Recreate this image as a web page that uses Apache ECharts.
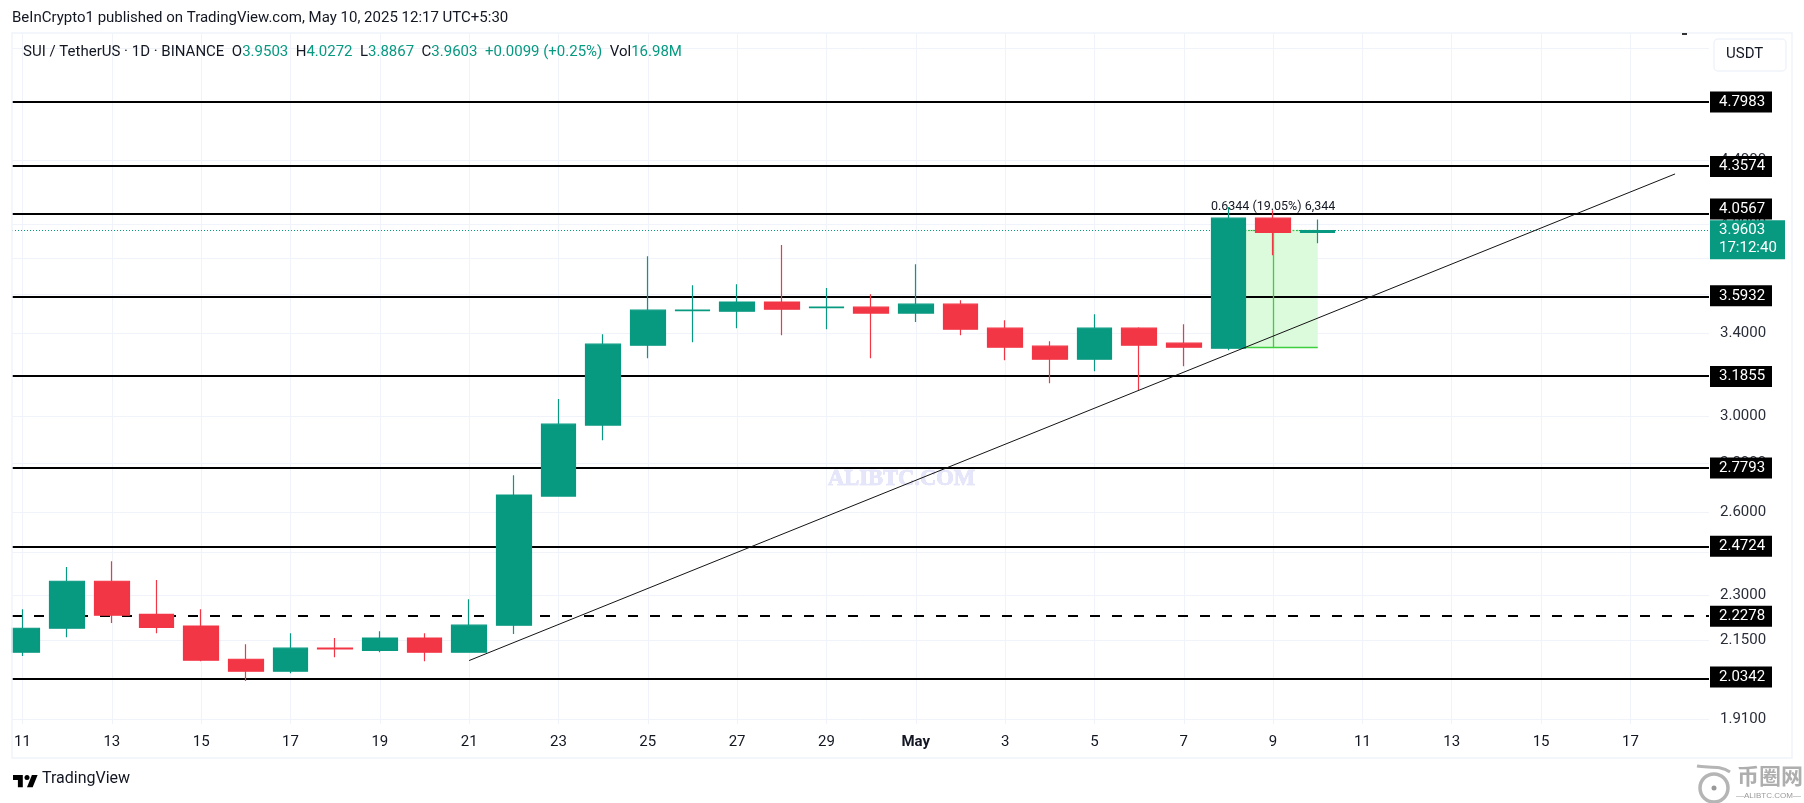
<!DOCTYPE html>
<html lang="en">

<head>
    <meta charset="UTF-8">
    <title>SUI / TetherUS</title>
    <script src="https://cdn.jsdelivr.net/npm/echarts@6/dist/echarts.min.js"></script>
    <style>
        html, body { margin: 0; padding: 0; background: #fff; }
        #container { width: 1804px; height: 803px; }
    </style>
</head>

<body>
    <div id="container"></div>
    <script type="text/javascript">
        // one row per day, Apr 11 - May 10
        var days = ['Apr 11', 'Apr 12', 'Apr 13', 'Apr 14', 'Apr 15', 'Apr 16', 'Apr 17', 'Apr 18', 'Apr 19', 'Apr 20',
            'Apr 21', 'Apr 22', 'Apr 23', 'Apr 24', 'Apr 25', 'Apr 26', 'Apr 27', 'Apr 28', 'Apr 29', 'Apr 30',
            'May 1', 'May 2', 'May 3', 'May 4', 'May 5', 'May 6', 'May 7', 'May 8', 'May 9', 'May 10'];
        var opens = [2.111, 2.188, 2.347, 2.234, 2.195, 2.089, 2.052, 2.124, 2.117, 2.156,
            2.111, 2.198, 2.665, 2.963, 3.338, 3.514, 3.512, 3.560, 3.530, 3.533,
            3.502, 3.549, 3.424, 3.333, 3.269, 3.424, 3.348, 3.323, 4.035, 3.9503];
        var closes = [2.188, 2.347, 2.231, 2.191, 2.086, 2.052, 2.124, 2.1215, 2.156, 2.111,
            2.198, 2.669, 2.967, 3.343, 3.517, 3.517, 3.560, 3.522, 3.533, 3.502,
            3.549, 3.419, 3.328, 3.269, 3.424, 3.338, 3.328, 4.035, 3.9503, 3.9603];
        var lows = [2.099, 2.159, 2.205, 2.172, 2.083, 2.022, 2.046, 2.095, 2.111, 2.083,
            2.111, 2.169, 2.662, 2.897, 3.274, 3.353, 3.424, 3.388, 3.419, 3.274,
            3.455, 3.388, 3.264, 3.154, 3.211, 3.121, 3.235, 3.313, 3.818, 3.8867];
        var highs = [2.251, 2.397, 2.418, 2.351, 2.251, 2.136, 2.172, 2.156, 2.178, 2.172,
            2.285, 2.749, 3.080, 3.393, 3.812, 3.651, 3.656, 3.876, 3.635, 3.602,
            3.767, 3.570, 3.465, 3.358, 3.496, 3.429, 3.444, 4.102, 4.083, 4.0272];

        var tickPositions = [0, 2, 4, 6, 8, 10, 12, 14, 16, 18, 20, 22, 24, 26, 28, 30, 32, 34, 36];
        var tickLabels = ['11', '13', '15', '17', '19', '21', '23', '25', '27', '29', 'May', '3', '5', '7', '9', '11', '13', '15', '17'];
        var priceTicks = [1.91, 2.15, 2.3, 2.45, 2.6, 2.8, 3, 3.4, 3.6, 3.8, 4, 4.4, 4.8, 5.2];
        // 3.8 and 5.2 sit behind the price box and the currency button
        var priceLabels = [1.91, 2.15, 2.3, 2.45, 2.6, 2.8, 3, 3.4, 3.6, 4, 4.4, 4.8];

        var solidLevels = [4.7983, 4.3574, 4.0567, 3.5932, 3.1855, 2.7793, 2.4724, 2.0342];
        var dashedLevels = [2.2278];
        var lastPrice = 3.9603;
        var countdown = '17:12:40';

        var trendDays = [10, 37];
        var trendPrices = [2.085, 4.310];

        var rangeDays = [27, 29];
        var rangePrices = [3.3259, 3.9603];
        var rangeArrowDay = 28;
        var rangeLabel = '0.6344 (19.05%) 6,344';

        var publishLine = 'BeInCrypto1 published on TradingView.com, May 10, 2025 12:17 UTC+5:30';
        var symbolLine = 'SUI / TetherUS · 1D · BINANCE';
        var ohlcLabels = ['O', 'H', 'L', 'C'];
        var ohlcValues = ['3.9503', '4.0272', '3.8867', '3.9603'];
        var changeText = '+0.0099 (+0.25%)';
        var volumeText = '16.98M';

        var UP = '#089981', DOWN = '#f23645', GRID = '#f0f3fa', TEXT = '#131722', FONT = 'Roboto';
        var X_MIN = -0.235, X_MAX = 37.76;

        var candleData = days.map(function (d, i) {
            return [i, opens[i], closes[i], lows[i], highs[i]];
        });

        var ohlcText = ohlcLabels.map(function (l, i) {
            return l + '{g|' + ohlcValues[i] + '}';
        }).join('  ');

        function tag(price, text, bg, w, h, dx, dy) {
            return {
                coord: [X_MAX, price],
                symbol: 'rect',
                symbolSize: [w, h],
                symbolOffset: [dx, dy],
                itemStyle: { color: bg },
                label: { show: true, position: 'insideLeft', distance: 9, formatter: text, color: '#fff', fontFamily: FONT, fontSize: 15, lineHeight: 18 }
            };
        }

        var levelLines = solidLevels.map(function (v) {
            return { yAxis: v, lineStyle: { color: '#000', width: 2, type: 'solid' } };
        }).concat(dashedLevels.map(function (v) {
            return { yAxis: v, lineStyle: { color: '#000', width: 2, type: [10, 12] } };
        }));
        levelLines.push({ yAxis: lastPrice, lineStyle: { color: UP, width: 1, type: [1, 2] } });

        var tags = solidLevels.concat(dashedLevels).map(function (v) {
            return tag(v, v.toFixed(4), '#000', 62, 21, 32, v === 4.0567 ? -5.5 : 0);
        });
        tags.push(tag(lastPrice, lastPrice.toFixed(4) + '\n' + countdown, UP, 75, 39, 38.5, 9));

        var option = {
            animation: false,
            backgroundColor: '#fff',
            textStyle: { fontFamily: FONT },
            title: [
                { text: publishLine, left: 12, top: 11, padding: 0, textStyle: { fontFamily: FONT, fontSize: 15, fontWeight: 'normal', color: TEXT } },
                {
                    text: symbolLine + '  ' + ohlcText + '  {g|' + changeText + '}  Vol{g|' + volumeText + '}',
                    left: 23, top: 45, padding: 0,
                    textStyle: {
                        fontFamily: FONT, fontSize: 15, fontWeight: 'normal', color: TEXT,
                        rich: { g: { color: UP, fontFamily: FONT, fontSize: 15 } }
                    }
                }
            ],
            grid: { left: 12, right: 95, top: 33, bottom: 83 },
            xAxis: {
                type: 'value',
                min: X_MIN,
                max: X_MAX,
                axisLine: { show: false },
                axisTick: { show: true, length: 4, lineStyle: { color: GRID }, customValues: tickPositions },
                splitLine: { show: true, lineStyle: { color: GRID, width: 1 } },
                axisLabel: {
                    customValues: tickPositions,
                    margin: 15,
                    fontFamily: FONT,
                    fontSize: 15,
                    color: TEXT,
                    formatter: function (v) {
                        var label = tickLabels[tickPositions.indexOf(v)];
                        return label === 'May' ? '{b|May}' : label;
                    },
                    rich: { b: { fontWeight: 'bold', fontFamily: FONT, fontSize: 15, color: TEXT } }
                }
            },
            yAxis: {
                type: 'log',
                logBase: 10,
                position: 'right',
                min: 1.908,
                max: 5.319,
                axisLine: { show: false },
                axisTick: { show: false, customValues: priceTicks },
                splitLine: { show: true, lineStyle: { color: GRID, width: 1 } },
                axisLabel: {
                    customValues: priceLabels,
                    margin: 11,
                    padding: [2, 0, 0, 0],
                    fontFamily: FONT,
                    fontSize: 15,
                    color: '#2a2e39',
                    formatter: function (v) { return Number(v).toFixed(4); }
                }
            },
            series: [
                {
                    name: 'levels',
                    type: 'line',
                    data: [],
                    silent: true,
                    markLine: {
                        z: 1,
                        silent: true,
                        symbol: 'none',
                        label: { show: false },
                        data: levelLines
                    },
                    markArea: {
                        z: 0,
                        silent: true,
                        itemStyle: { color: '#dcfadc' },
                        label: { show: true, position: 'top', distance: 17, formatter: rangeLabel, color: TEXT, fontFamily: FONT, fontSize: 12.5 },
                        data: [[
                            { coord: [rangeDays[0], rangePrices[1]] },
                            { coord: [rangeDays[1], rangePrices[0]] }
                        ]]
                    }
                },
                {
                    name: 'range',
                    type: 'line',
                    data: [],
                    silent: true,
                    markLine: {
                        z: 1,
                        silent: true,
                        symbol: 'none',
                        label: { show: false },
                        lineStyle: { color: '#3ecf3e', width: 1.3, type: 'solid' },
                        data: [
                            [{ coord: [rangeDays[0], rangePrices[0]] }, { coord: [rangeDays[1], rangePrices[0]] }],
                            [{ coord: [rangeDays[0], rangePrices[1]], lineStyle: { type: [2, 2] } }, { coord: [rangeDays[1], rangePrices[1]] }],
                            [{ coord: [rangeArrowDay, rangePrices[0]] }, { coord: [rangeArrowDay, rangePrices[1]] }]
                        ]
                    }
                },
                {
                    name: 'SUI / TetherUS',
                    type: 'candlestick',
                    z: 2,
                    barWidth: 35,
                    silent: true,
                    encode: { x: 0, y: [1, 2, 3, 4] },
                    itemStyle: { color: UP, color0: DOWN, borderColor: UP, borderColor0: DOWN, borderWidth: 1.2 },
                    data: candleData
                },
                {
                    name: 'trend',
                    type: 'line',
                    z: 3,
                    silent: true,
                    symbol: 'none',
                    lineStyle: { color: '#131313', width: 1 },
                    data: [[trendDays[0], trendPrices[0]], [trendDays[1], trendPrices[1]]]
                },
                {
                    name: 'tags',
                    type: 'line',
                    data: [],
                    silent: true,
                    markPoint: { z: 6, silent: true, data: tags }
                }
            ],
            graphic: [
                // candlestick only drops whole boxes outside the grid, so hide the part of the first one left of the plot
                { type: 'rect', z: 10, shape: { x: 0, y: 34, width: 11.5, height: 720 }, style: { fill: '#fff' } },
                // chart frame
                { type: 'rect', z: 11, shape: { x: 12, y: 33, width: 1780, height: 725 }, style: { fill: 'none', stroke: GRID, lineWidth: 1.5 } },
                { type: 'rect', z: 11, shape: { x: 1682, y: 33, width: 5, height: 2 }, style: { fill: '#333' } },
                // currency button
                { type: 'rect', z: 11, shape: { x: 1714, y: 39, width: 72, height: 32, r: 4 }, style: { fill: '#fff', stroke: GRID, lineWidth: 1.5 } },
                { type: 'text', z: 11, x: 1726, y: 47, style: { text: 'USDT', fontFamily: FONT, fontSize: 15, fill: TEXT } },
                // watermark over the middle of the plot
                { type: 'text', z: 1, x: 828, y: 468, style: { text: 'ALIBTC.COM', fontFamily: 'Liberation Serif', fontWeight: 'bold', fontSize: 22.5, fill: '#e6e6fb', stroke: '#d5d5f5', lineWidth: 0.6 } },
                // TradingView mark
                { type: 'polygon', shape: { points: [[13, 775], [22.8, 775], [22.8, 787.3], [17.9, 787.3], [17.9, 780], [13, 780]] }, style: { fill: '#000' } },
                { type: 'polygon', shape: { points: [[32.7, 787.3], [27, 787.3], [31.9, 775], [37.6, 775]] }, style: { fill: '#000' } },
                { type: 'circle', shape: { cx: 27, cy: 777.5, r: 2.5 }, style: { fill: '#000' } },
                { type: 'text', x: 42, y: 771, style: { text: 'TradingView', fontFamily: FONT, fontSize: 16, fill: TEXT } },
                // site logo bottom right
                { type: 'circle', shape: { cx: 1714, cy: 788, r: 14 }, style: { fill: 'none', stroke: '#b5b5b5', lineWidth: 3.5 } },
                { type: 'circle', shape: { cx: 1714, cy: 788, r: 2.5 }, style: { fill: '#999' } },
                { type: 'bezierCurve', shape: { x1: 1697, y1: 766, x2: 1730, y2: 772, cpx1: 1708, cpy1: 768, cpx2: 1720, cpy2: 765 }, style: { fill: 'none', stroke: '#b5b5b5', lineWidth: 3 } },
                { type: 'text', x: 1737, y: 765, style: { text: '币圈网', fontFamily: 'Noto Sans CJK SC', fontWeight: 'bold', fontSize: 22, fill: '#aeaeae' } },
                { type: 'text', x: 1736, y: 792, style: { text: '—ALIBTC.COM—', fontFamily: 'Liberation Sans', fontSize: 8, fill: '#9a9a9a' } }
            ]
        };

        var myChart = echarts.init(document.getElementById('container'));
        myChart.setOption(option);
    </script>
</body>

</html>
